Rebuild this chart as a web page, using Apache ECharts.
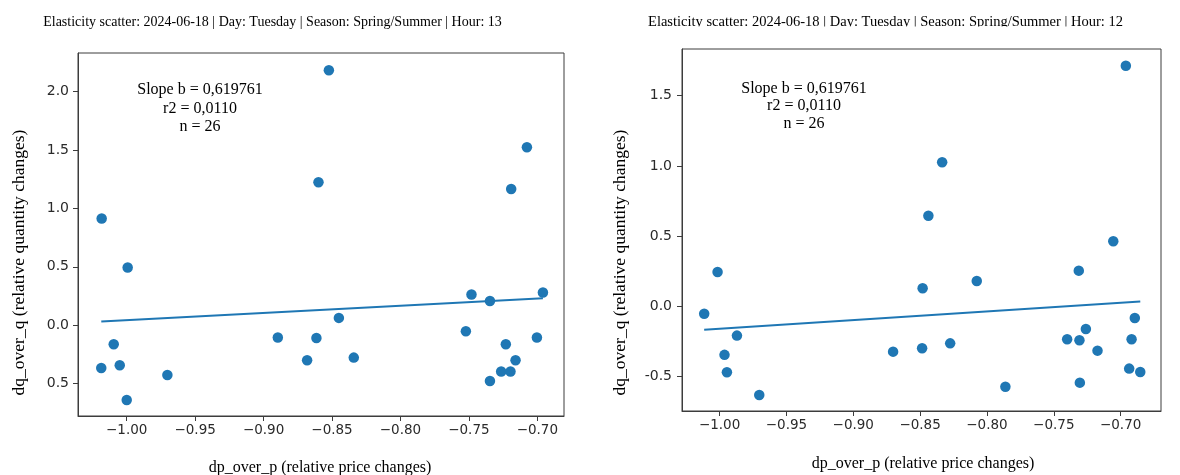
<!DOCTYPE html>
<html>
<head>
<meta charset="utf-8">
<title>Elasticity scatter</title>
<script src="https://cdn.jsdelivr.net/npm/echarts@6/dist/echarts.min.js"></script>
<style>
  html, body { margin: 0; padding: 0; background: #ffffff; }
  #chart { width: 1180px; height: 475px; }
</style>
</head>
<body>
<div id="chart"></div>
<script>
// Hour 13: relative price change (x) vs relative quantity change (y)
const h13PriceChange = [
  -1.0183, -0.9993, -0.8523, -0.8599, -0.7076, -0.7191, -0.8896, -1.0095, -1.0186,
  -1.0051, -0.9703, -1.0000, -0.7481, -0.7346, -0.6959, -0.8450, -0.8614, -0.8682,
  -0.8341, -0.7522, -0.7230, -0.7003, -0.7159, -0.7264, -0.7196, -0.7346
];
const h13QtyChange = [
  0.914, 0.494, 2.183, 1.224, 1.524, 1.167, -0.105, -0.163, -0.366,
  -0.342, -0.426, -0.640, 0.263, 0.208, 0.280, 0.063, -0.109, -0.300,
  -0.277, -0.051, -0.163, -0.105, -0.300, -0.396, -0.396, -0.477
];

// Hour 12
const h12PriceChange = [
  -0.6961, -0.8335, -0.8438, -0.7055, -1.0015, -1.0115, -0.9870, -0.9963, -0.9945,
  -0.9703, -0.8702, -0.7313, -0.8481, -0.8076, -0.8485, -0.8275, -0.7862, -0.7400,
  -0.7308, -0.7260, -0.7173, -0.7305, -0.6894, -0.6918, -0.6936, -0.6853
];
const h12QtyChange = [
  1.714, 1.026, 0.645, 0.463, 0.244, -0.053, -0.209, -0.346, -0.470,
  -0.632, -0.323, 0.254, 0.128, 0.180, -0.299, -0.264, -0.573, -0.235,
  -0.242, -0.162, -0.316, -0.544, -0.083, -0.235, -0.444, -0.468
];

// Fitted line y = a + b·x
const slopeB = 0.619761;
const h13Intercept = 0.663;
const h12Intercept = 0.459;

const statsText = 'Slope b = 0,619761\nr2 = 0,0110\nn = 26';
const h13Title = 'Elasticity scatter: 2024-06-18 | Day: Tuesday | Season: Spring/Summer | Hour: 13';
const h12Title = 'Elasticity scatter: 2024-06-18 | Day: Tuesday | Season: Spring/Summer | Hour: 12';
const xAxisTitle = 'dp_over_p (relative price changes)';
const yAxisTitle = 'dq_over_q (relative quantity changes)';

// Tick positions and their printed labels
const xTicks = [-1.00, -0.95, -0.90, -0.85, -0.80, -0.75, -0.70];
const xTickLabels = ['\u22121.00', '\u22120.95', '\u22120.90', '\u22120.85', '\u22120.80', '\u22120.75', '\u22120.70'];
const h13YTicks = [-0.5, 0.0, 0.5, 1.0, 1.5, 2.0];
const h13YTickLabels = ['0.5', '0.0', '0.5', '1.0', '1.5', '2.0'];
const h12YTicks = [-0.5, 0.0, 0.5, 1.0, 1.5];
const h12YTickLabels = ['-0.5', '0.0', '0.5', '1.0', '1.5'];

const BLUE = '#1f77b4';
const SPINE = '#3c3c3c';
const TICK_TEXT = '#2a2a2a';
const SERIF = '"Liberation Serif", "Times New Roman", serif';
const SANS = '"DejaVu Sans", sans-serif';

function zip(xs, ys) { return xs.map((x, i) => [x, ys[i]]); }
function fitLine(xs, a, b) {
  const lo = Math.min(...xs), hi = Math.max(...xs);
  return [[lo, a + b * lo], [hi, a + b * hi]];
}
function labelFor(ticks, labels) {
  return v => {
    const i = ticks.findIndex(t => Math.abs(t - v) < 1e-9);
    return i >= 0 ? labels[i] : '';
  };
}

function xAxisCfg(gridIndex, min, max) {
  return {
    type: 'value', gridIndex, min, max,
    axisLine: { show: true, onZero: false, lineStyle: { color: SPINE, width: 1 } },
    axisTick: { show: true, inside: false, length: 5, customValues: xTicks, lineStyle: { color: SPINE, width: 1 } },
    axisLabel: {
      customValues: xTicks, formatter: labelFor(xTicks, xTickLabels),
      margin: 7, fontSize: 13.5, fontFamily: SANS, color: TICK_TEXT
    },
    splitLine: { show: false }
  };
}
function yAxisCfg(gridIndex, min, max, ticks, labels, margin) {
  return {
    type: 'value', gridIndex, min, max,
    axisLine: { show: true, onZero: false, lineStyle: { color: SPINE, width: 1 } },
    axisTick: { show: true, inside: false, length: 5, customValues: ticks, lineStyle: { color: SPINE, width: 1 } },
    axisLabel: {
      customValues: ticks, formatter: labelFor(ticks, labels),
      margin, fontSize: 14, fontFamily: SANS, color: TICK_TEXT
    },
    splitLine: { show: false }
  };
}

const chart = echarts.init(document.getElementById('chart'), null, { renderer: 'canvas' });

chart.setOption({
  animation: false,
  backgroundColor: '#ffffff',
  grid: [
    { left: 78, top: 53, width: 486, height: 363, show: true, borderColor: SPINE, borderWidth: 1, backgroundColor: 'transparent' },
    { left: 682, top: 49, width: 479, height: 362, show: true, borderColor: SPINE, borderWidth: 1, backgroundColor: 'transparent' }
  ],
  xAxis: [
    xAxisCfg(0, -1.0356, -0.6805),
    xAxisCfg(1, -1.0281, -0.6698)
  ],
  yAxis: [
    yAxisCfg(0, -0.777, 2.331, h13YTicks, h13YTickLabels, 9),
    yAxisCfg(1, -0.746, 1.833, h12YTicks, h12YTickLabels, 10)
  ],
  series: [
    {
      type: 'line', xAxisIndex: 0, yAxisIndex: 0,
      data: fitLine(h13PriceChange, h13Intercept, slopeB),
      showSymbol: false, silent: true,
      lineStyle: { color: BLUE, width: 2 }
    },
    {
      type: 'scatter', xAxisIndex: 0, yAxisIndex: 0,
      data: zip(h13PriceChange, h13QtyChange),
      symbolSize: 10.5, itemStyle: { color: BLUE, opacity: 1 }
    },
    {
      type: 'line', xAxisIndex: 1, yAxisIndex: 1,
      data: fitLine(h12PriceChange, h12Intercept, slopeB),
      showSymbol: false, silent: true,
      lineStyle: { color: BLUE, width: 2 }
    },
    {
      type: 'scatter', xAxisIndex: 1, yAxisIndex: 1,
      data: zip(h12PriceChange, h12QtyChange),
      symbolSize: 10.5, itemStyle: { color: BLUE, opacity: 1 }
    }
  ],
  graphic: [
    // panel titles
    { type: 'text', x: 272.5, y: 22.5, style: { text: h13Title, font: '14px ' + SERIF, fill: '#000', textAlign: 'center', textVerticalAlign: 'middle' } },
    { type: 'text', x: 885.5, y: 22.5, style: { text: h12Title, font: '14.5px ' + SERIF, fill: '#000', textAlign: 'center', textVerticalAlign: 'middle' } },
    // the right title's band is cut off just under its baseline
    { type: 'rect', shape: { x: 640, y: 26.5, width: 500, height: 6 }, style: { fill: '#ffffff' }, z: 100 },
    // regression stats
    { type: 'text', x: 200, y: 108.3, style: { text: statsText, font: '16px ' + SERIF, lineHeight: 18.3, fill: '#000', textAlign: 'center', textVerticalAlign: 'middle' } },
    { type: 'text', x: 804, y: 106.2, style: { text: statsText, font: '16px ' + SERIF, lineHeight: 17.9, fill: '#000', textAlign: 'center', textVerticalAlign: 'middle' } },
    // axis titles
    { type: 'text', x: 320, y: 468, style: { text: xAxisTitle, font: '16px ' + SERIF, fill: '#000', textAlign: 'center', textVerticalAlign: 'middle' } },
    { type: 'text', x: 923, y: 463.3, style: { text: xAxisTitle, font: '16px ' + SERIF, fill: '#000', textAlign: 'center', textVerticalAlign: 'middle' } },
    { type: 'text', x: 19.5, y: 262.5, rotation: Math.PI / 2, style: { text: yAxisTitle, font: '17.5px ' + SERIF, fill: '#000', textAlign: 'center', textVerticalAlign: 'middle' } },
    { type: 'text', x: 620.5, y: 262.5, rotation: Math.PI / 2, style: { text: yAxisTitle, font: '17.5px ' + SERIF, fill: '#000', textAlign: 'center', textVerticalAlign: 'middle' } }
  ]
});
</script>
</body>
</html>
